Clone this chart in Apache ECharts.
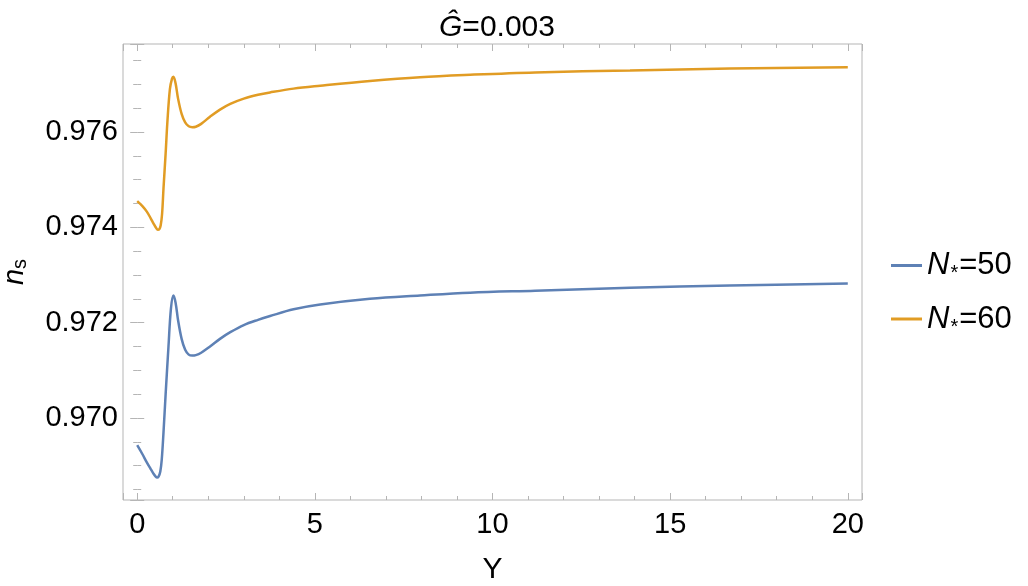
<!DOCTYPE html>
<html>
<head>
<meta charset="utf-8">
<script src="https://cdn.jsdelivr.net/npm/echarts@6/dist/echarts.min.js"></script>
<style>html,body{margin:0;padding:0;background:#fff}#c{width:1028px;height:586px}</style>
</head>
<body>
<div id="c"></div>
<script>
// N*=50 curve
const x50 = [0, 0.14, 0.27, 0.38, 0.46, 0.52, 0.56, 0.6, 0.65, 0.69, 0.74, 0.8, 0.88, 0.95, 1.02, 1.08, 1.15, 1.25, 1.35, 1.45, 1.55, 1.65, 1.8, 2.05, 2.33, 2.62, 3.0, 3.4, 3.74, 4.4, 5.15, 6.55, 7.96, 9.37, 11.2, 13.87, 16.68, 20];
const y50 = [0.96943, 0.96925, 0.96907, 0.96893, 0.96883, 0.96877, 0.96875, 0.96877, 0.96888, 0.96912, 0.96970, 0.97050, 0.97150, 0.97230, 0.97257, 0.97242, 0.97205, 0.97166, 0.97143, 0.97133, 0.97131, 0.97132, 0.97137, 0.97150, 0.97166, 0.97180, 0.97195, 0.97206, 0.97214, 0.97228, 0.97238, 0.97250, 0.97257, 0.97263, 0.97267, 0.97273, 0.97278, 0.97282];
// N*=60 curve
const x60 = [0, 0.14, 0.27, 0.38, 0.46, 0.53, 0.58, 0.62, 0.66, 0.7, 0.74, 0.8, 0.85, 0.92, 0.98, 1.02, 1.08, 1.15, 1.25, 1.35, 1.45, 1.55, 1.65, 1.8, 2.05, 2.33, 2.62, 3.0, 3.4, 3.74, 4.4, 5.15, 6.55, 7.96, 9.37, 11.2, 13.87, 16.68, 20];
const y60 = [0.97455, 0.97445, 0.97433, 0.97419, 0.97408, 0.97399, 0.97395, 0.97396, 0.97404, 0.97428, 0.97482, 0.97555, 0.97622, 0.97690, 0.97712, 0.97716, 0.97702, 0.97670, 0.97638, 0.97620, 0.97612, 0.97610, 0.97611, 0.97617, 0.97632, 0.97647, 0.97659, 0.97670, 0.97678, 0.97683, 0.97691, 0.97697, 0.97707, 0.97715, 0.97720, 0.97725, 0.97729, 0.97733, 0.97736];
const seriesNames = ['N50', 'N60'];
const xMin = -0.4, xMax = 20.4;
const yMin = 0.96828, yMax = 0.977846;
const xTickLabels = [0, 5, 10, 15, 20];
const yTickLabels = [0.970, 0.972, 0.974, 0.976];

const zip = (a, b) => a.map((v, i) => [v, b[i]]);
const font = 'Liberation Sans';
const frame = '#b5b5b5';
const chart = echarts.init(document.getElementById('c'), null, {renderer: 'canvas'});

const baseX = {
  type: 'value', min: xMin, max: xMax,
  axisLine: {show: false},
  axisTick: {show: true, inside: true, length: 7, lineStyle: {color: frame}},
  minorTick: {show: true, splitNumber: 5, length: 4, lineStyle: {color: frame}},
  splitLine: {show: false}
};
const baseY = {
  type: 'value', min: yMin, max: yMax,
  axisLine: {show: false},
  axisTick: {show: true, inside: true, length: 7, lineStyle: {color: frame}},
  minorTick: {show: true, splitNumber: 4, length: 4, lineStyle: {color: frame}},
  splitLine: {show: false}
};

chart.setOption({
  animation: false,
  title: {
    text: '{g|Ĝ}{t|=0.003}',
    left: 492, top: 8, textAlign: 'center',
    textStyle: {fontWeight: 'normal', rich: {
      g: {fontFamily: font, fontSize: 30, fontStyle: 'italic', fontWeight: 'normal', color: '#000'},
      t: {fontFamily: font, fontSize: 30, fontWeight: 'normal', color: '#000'}
    }}
  },
  grid: {left: 123, top: 44, width: 739, height: 456, show: true, borderColor: frame, borderWidth: 1, containLabel: false, outerBoundsMode: 'none'},
  legend: {
    orient: 'vertical', left: 886, top: 245, itemGap: 20,
    itemWidth: 31, itemHeight: 3,
    icon: 'rect',
    data: seriesNames,
    formatter: function (name) {
      return '{n|N}{s|*}{t|=' + name.slice(1) + '}';
    },
    textStyle: {rich: {
      n: {fontFamily: font, fontSize: 31, fontStyle: 'italic', color: '#000'},
      s: {fontFamily: font, fontSize: 20, color: '#000', padding: [16, 1, 0, 1]},
      t: {fontFamily: font, fontSize: 31, color: '#000'}
    }}
  },
  xAxis: [
    Object.assign({}, baseX, {
      position: 'bottom',
      name: 'Y', nameLocation: 'middle', nameGap: 55,
      nameTextStyle: {fontFamily: font, fontSize: 30, color: '#000'},
      axisLabel: {
        show: true, margin: 10, fontFamily: font, fontSize: 29, color: '#000',
        formatter: v => xTickLabels.some(t => Math.abs(t - v) < 1e-6) ? String(Math.round(v)) : ''
      }
    }),
    Object.assign({}, baseX, {position: 'top', axisLabel: {show: false}})
  ],
  yAxis: [
    Object.assign({}, baseY, {
      position: 'left',
      name: '{n|n}{s|s}', nameLocation: 'middle', nameGap: 93, nameRotate: 90,
      nameTextStyle: {rich: {
        n: {fontFamily: font, fontSize: 29, fontStyle: 'italic', color: '#000'},
        s: {fontFamily: font, fontSize: 20, color: '#000', padding: [10, 0, 0, 0]}
      }},
      axisLabel: {
        show: true, margin: 5, fontFamily: font, fontSize: 29, color: '#000',
        formatter: v => {
          const t = yTickLabels.find(t => Math.abs(t - v) < 1e-7);
          return t !== undefined ? t.toFixed(3) : '';
        }
      }
    }),
    Object.assign({}, baseY, {position: 'right', axisLabel: {show: false}})
  ],
  series: [
    {name: 'N50', type: 'line', data: zip(x50, y50), smooth: 0.35, showSymbol: false, symbol: 'none',
     lineStyle: {color: '#5E81B5', width: 2.5}, itemStyle: {color: '#5E81B5'}},
    {name: 'N60', type: 'line', data: zip(x60, y60), smooth: 0.35, showSymbol: false, symbol: 'none',
     lineStyle: {color: '#E19C24', width: 2.5}, itemStyle: {color: '#E19C24'}}
  ]
});
</script>
</body>
</html>
